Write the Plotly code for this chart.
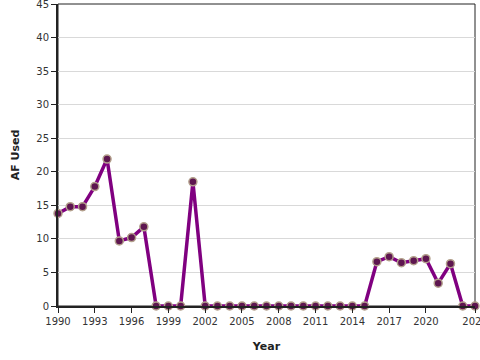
import plotly.graph_objects as go

years = list(range(1990, 2025))
af_used = [13.8, 14.8, 14.8, 17.8, 21.9, 9.7, 10.2, 11.8, 0, 0, 0, 18.5,
           0, 0, 0, 0, 0, 0, 0, 0, 0, 0, 0, 0, 0, 0,
           6.6, 7.35, 6.45, 6.75, 7.05, 3.4, 6.3, 0, 0]
x_ticks = [1990, 1993, 1996, 1999, 2002, 2005, 2008, 2011, 2014, 2017, 2020, 2024]
y_ticks = [0, 5, 10, 15, 20, 25, 30, 35, 40, 45]

fig = go.Figure()
fig.add_trace(go.Scatter(
    x=years, y=af_used, mode="lines+markers",
    line=dict(color="#800080", width=3.5),
    marker=dict(size=8, color="#5e1650", line=dict(color="#b3a08c", width=1.5)),
    cliponaxis=False, showlegend=False,
))

fig.update_layout(
    width=480, height=360,
    margin=dict(l=58, r=5, t=4, b=54, autoexpand=False),
    plot_bgcolor="white", paper_bgcolor="white",
    font=dict(family="DejaVu Sans", size=10, color="#333"),
    xaxis=dict(
        range=[1990, 2024], tickvals=x_ticks, ticktext=[str(v) for v in x_ticks],
        automargin=False, ticklabeloverflow="allow",
        showgrid=False, zeroline=False,
        showline=True, linecolor="#222", linewidth=2,
        ticks="outside", ticklen=5, tickcolor="#222", tickwidth=1,
        title=dict(text="<b>Year</b>", font=dict(size=11, color="#222"), standoff=16),
    ),
    yaxis=dict(
        range=[0, 45], tickvals=y_ticks,
        automargin=False, ticklabeloverflow="allow",
        showgrid=True, gridcolor="#d9d9d9", gridwidth=1, zeroline=False,
        showline=True, linecolor="#222", linewidth=2,
        ticks="outside", ticklen=5, tickcolor="#222", tickwidth=1,
        title=dict(text="<b>AF Used</b>", font=dict(size=11, color="#222"), standoff=14),
    ),
    shapes=[dict(type="rect", xref="paper", yref="paper", x0=0, x1=1, y0=0, y1=1,
                 line=dict(color="#222", width=1), layer="below")],
)

fig.write_html("out.html", config={"displayModeBar": False},
               post_script="document.body.style.margin='0';document.body.style.overflow='hidden';")
